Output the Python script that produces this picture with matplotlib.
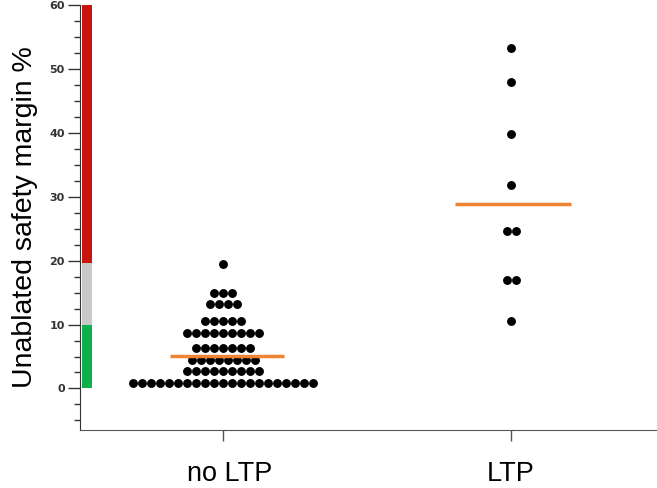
import matplotlib
matplotlib.use("Agg")
import matplotlib.pyplot as plt
import matplotlib.transforms as mtransforms
from matplotlib.ticker import MultipleLocator
import numpy as np

plt.rcParams['font.family'] = ['Liberation Sans', 'DejaVu Sans']

categories = ["no LTP", "LTP"]

# no LTP values (value, count of dots at that value)
nol_values = [0.8, 2.8, 4.5, 6.4, 8.7, 10.6, 13.2, 14.9, 19.4]
nol_counts = [21, 9, 8, 7, 9, 5, 4, 3, 1]
# LTP values
ltp_values = [10.5, 17.0, 24.7, 31.9, 39.8, 48.0, 53.3]
ltp_counts = [1, 2, 2, 1, 1, 1, 1]

group_means = [5.1, 28.8]

# coloured zone bar on left
zone_edges = [0, 10, 19.6, 60]
zone_colors = ["#0db04b", "#c8c8c8", "#c8160f"]

fig = plt.figure(figsize=(6.57, 4.88), dpi=100)
ax = fig.add_axes([80 / 657, (488 - 430) / 488, 577 / 657, 425 / 488])

dot_spacing = 9.0 / 288.0  # data units


def swarm(center, values, counts):
    xs, ys = [], []
    for v, n in zip(values, counts):
        for i in range(n):
            xs.append(center + (i - (n - 1) / 2) * dot_spacing)
            ys.append(v)
    return xs, ys


for ci, (vals, cnts) in enumerate([(nol_values, nol_counts), (ltp_values, ltp_counts)]):
    xs, ys = swarm(ci, vals, cnts)
    ax.plot(xs, ys, 'o', color='black', markersize=6.4, markeredgewidth=0, zorder=3)

for ci, m in enumerate(group_means):
    ax.plot([ci - 0.195 + 0.01 * (1 - ci), ci + 0.21], [m, m], color="#ee8434", lw=2.5,
            solid_capstyle='butt', zorder=4)

trans = mtransforms.blended_transform_factory(ax.transAxes, ax.transData)
for lo, hi, c in zip(zone_edges[:-1], zone_edges[1:], zone_colors):
    ax.add_patch(plt.Rectangle((0.0035, lo), 0.0175, hi - lo, transform=trans,
                               color=c, lw=0, zorder=2, clip_on=False))

ax.set_xlim(-0.497, 1.507)
ax.set_ylim(-6.5, 60)
ax.set_xticks([0, 1])
ax.set_xticklabels(categories, fontsize=19.5)
ax.set_yticks([0, 10, 20, 30, 40, 50, 60])
ax.yaxis.set_minor_locator(MultipleLocator(2.5))
ax.tick_params(axis='y', which='major', length=9, width=1, color='#333333',
               labelsize=8, labelcolor='#333333', pad=2)
ax.tick_params(axis='y', which='minor', length=4.5, width=1, color='#333333')
ax.tick_params(axis='x', which='major', length=8, width=1, color='#555555', pad=14)
for lbl in ax.get_yticklabels():
    lbl.set_fontweight('bold')
    lbl.set_family(['DejaVu Sans'])
# shift "no LTP" label slightly right as in the reference
offset = mtransforms.ScaledTranslation(7 / 100, 0, fig.dpi_scale_trans)
ax.get_xticklabels()[0].set_transform(ax.get_xticklabels()[0].get_transform() + offset)

ax.spines['top'].set_visible(False)
ax.spines['right'].set_visible(False)
ax.spines['left'].set_color('#333333')
ax.spines['bottom'].set_color('#555555')
ax.set_ylabel("Unablated safety margin %", fontsize=20.5, labelpad=8)

fig.savefig("out.png", dpi=100)
